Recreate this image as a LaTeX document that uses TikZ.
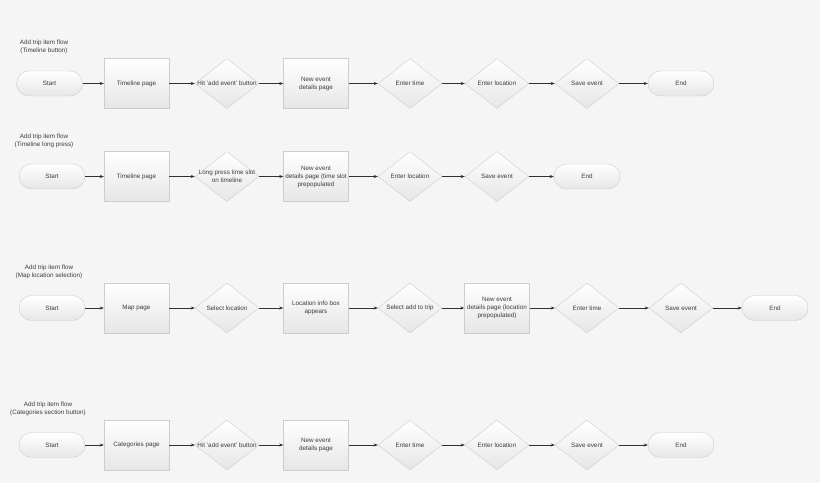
\documentclass[tikz,border=0pt]{standalone}
\usepackage{fontspec}
\setmainfont{Liberation Sans}
\usetikzlibrary{positioning, shapes.geometric, arrows.meta}

\definecolor{bggray}{HTML}{F5F5F5}
\definecolor{edgegray}{HTML}{CDCDCD}
\definecolor{shadegray}{HTML}{E6E6E6}
\definecolor{txtgray}{HTML}{3C3C3C}
\definecolor{arrowgray}{HTML}{303030}

\tikzset{
    every node/.style={font=\fontsize{6.3}{8}\selectfont, text=txtgray},
    every label/.style={align=center},
    terminal/.style={rectangle, rounded corners=12.5pt, draw=edgegray, top color=white, bottom color=shadegray, minimum width=66pt, minimum height=25pt, inner sep=0pt},
    page/.style={rectangle, draw=edgegray, top color=white, bottom color=shadegray, minimum width=65pt, minimum height=50pt, inner sep=1pt, align=center},
    decision/.style={diamond, draw=edgegray, top color=white, bottom color=shadegray, minimum width=64pt, minimum height=50pt, inner sep=0pt},
    title/.style={align=center},
    flow/.style={draw=arrowgray, line width=0.6pt, -{Stealth[length=4pt, width=3pt]}}
}

\begin{document}
\begin{tikzpicture}[x=1pt, y=-1pt, on grid]
        \fill[bggray] (0,0) rectangle (820,483);
        \useasboundingbox (0,0) rectangle (820,483);

        % timeline button
        \node[title] (h1) at (44,47) {Add trip item flow\\(Timeline button)};
        \node[terminal] (s1) at (49.5,83.5) {Start};
        \node[page, right=87pt of s1] (p1) {Timeline page};
        \node[decision, right=90.5pt of p1, label={center:Hit 'add event' button}] (d1) {};
        \node[page, right=89pt of d1] (n1) {New event\\details page};
        \node[decision, right=94pt of n1, label={center:Enter time}] (t1) {};
        \node[decision, right=87pt of t1, label={center:Enter location}] (l1) {};
        \node[decision, right=90pt of l1, label={center:Save event}] (v1) {};
        \node[terminal, right=94pt of v1] (e1) {End};

        % timeline long press
        \node[title] (h2) at (44,141) {Add trip item flow\\(Timeline long press)};
        \node[terminal] (s2) at (52,176.5) {Start};
        \node[page, right=84.5pt of s2] (p2) {Timeline page};
        \node[decision, right=90.5pt of p2, label={center:Long press time slot\\on timeline}] (d2) {};
        \node[page, right=89pt of d2] (n2) {New event\\details page (time slot\\prepopulated};
        \node[decision, right=94pt of n2, label={center:Enter location}] (l2) {};
        \node[decision, right=87pt of l2, label={center:Save event}] (v2) {};
        \node[terminal, right=90pt of v2] (e2) {End};

        % map location selection
        \node[title] (h3) at (49,272) {Add trip item flow\\(Map location selection)};
        \node[terminal] (s3) at (52,308) {Start};
        \node[page, right=84.5pt of s3] (p3) {Map page};
        \node[decision, right=90.5pt of p3, label={center:Select location}] (d3) {};
        \node[page, right=89pt of d3] (b3) {Location info box\\appears};
        \node[decision, right=94pt of b3, label={center:Select add to trip}] (a3) {};
        \node[page, right=87pt of a3] (n3) {New event\\details page (location\\prepopulated)};
        \node[decision, right=90pt of n3, label={center:Enter time}] (t3) {};
        \node[decision, right=94pt of t3, label={center:Save event}] (v3) {};
        \node[terminal, right=94pt of v3] (e3) {End};

        % categories section button
        \node[title] (h4) at (48,409) {Add trip item flow\\(Categories section button)};
        \node[terminal] (s4) at (52,445) {Start};
        \node[page, right=84.5pt of s4] (p4) {Categories page};
        \node[decision, right=90.5pt of p4, label={center:Hit 'add event' button}] (d4) {};
        \node[page, right=89pt of d4] (n4) {New event\\details page};
        \node[decision, right=94pt of n4, label={center:Enter time}] (t4) {};
        \node[decision, right=87pt of t4, label={center:Enter location}] (l4) {};
        \node[decision, right=90pt of l4, label={center:Save event}] (v4) {};
        \node[terminal, right=94pt of v4] (e4) {End};

        \path[flow]
        (s1) edge (p1) (p1) edge (d1) (d1) edge (n1) (n1) edge (t1)
        (t1) edge (l1) (l1) edge (v1) (v1) edge (e1)
        (s2) edge (p2) (p2) edge (d2) (d2) edge (n2) (n2) edge (l2)
        (l2) edge (v2) (v2) edge (e2)
        (s3) edge (p3) (p3) edge (d3) (d3) edge (b3) (b3) edge (a3)
        (a3) edge (n3) (n3) edge (t3) (t3) edge (v3) (v3) edge (e3)
        (s4) edge (p4) (p4) edge (d4) (d4) edge (n4) (n4) edge (t4)
        (t4) edge (l4) (l4) edge (v4) (v4) edge (e4);
\end{tikzpicture}
\end{document}
